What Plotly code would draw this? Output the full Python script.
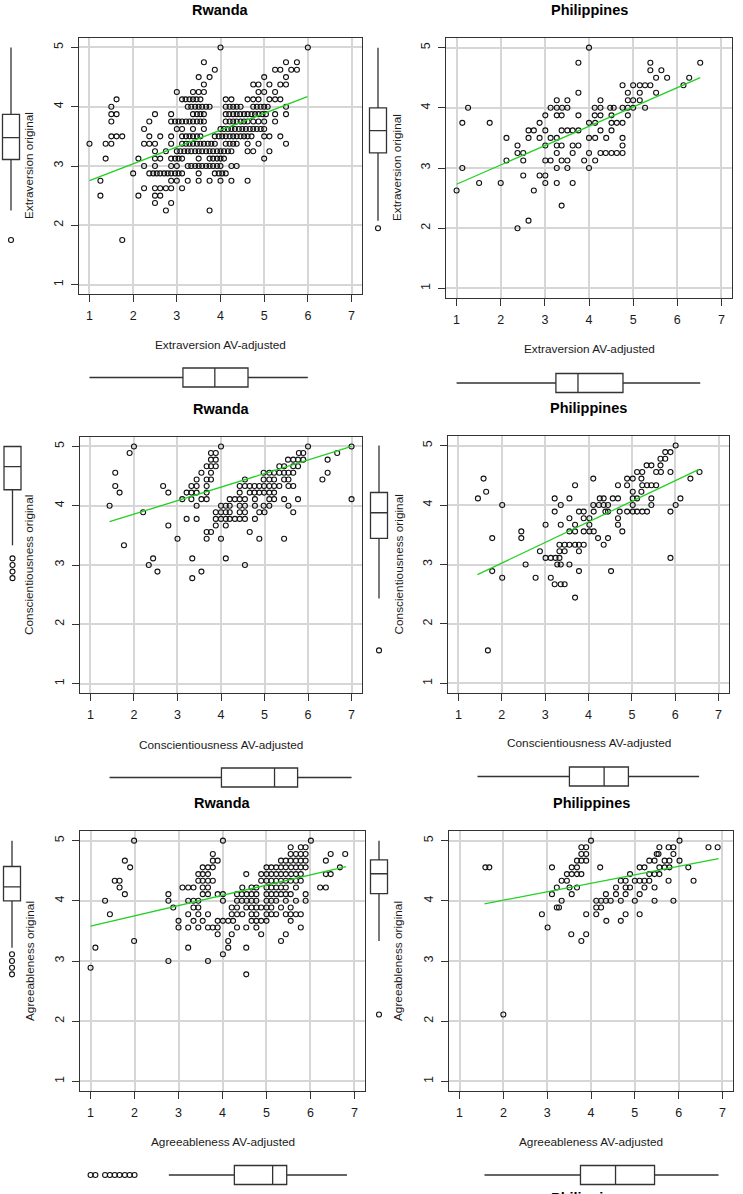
import plotly.graph_objects as go

# figure size in pixels
W, H = 743, 1194

countries = ["Rwanda", "Philippines", "Rwanda", "Philippines", "Rwanda", "Philippines"]
traits = ["Extraversion", "Extraversion", "Conscientiousness", "Conscientiousness",
          "Agreeableness", "Agreeableness"]

x_ticks = [1, 2, 3, 4, 5, 6, 7]
y_ticks = [1, 2, 3, 4, 5]

# ---- scatter data, stored as (original score, [AV-adjusted scores]) rows ----
rw_ext_rows = [
    (5.0, [4.0, 6.0]),
    (4.75, [3.62, 5.5, 5.75]),
    (4.625, [3.87, 5.25, 5.37, 5.62, 5.75]),
    (4.5, [3.5, 3.75, 5.0, 5.5]),
    (4.375, [3.62, 4.75, 4.87, 5.12, 5.37, 5.5]),
    (4.25, [3.0, 3.37, 3.5, 3.62, 4.87, 5.0, 5.25]),
    (4.125, [1.62, 3.12, 3.2, 3.29, 3.37, 3.45, 3.54, 4.12, 4.25, 4.62, 4.75, 4.87,
             5.12, 5.25, 5.37]),
    (4.0, [1.5, 3.25, 3.33, 3.42, 3.5, 3.58, 3.67, 3.75, 4.12, 4.21, 4.29, 4.37, 4.46,
           4.75, 4.83, 4.92, 5.0, 5.08, 5.5]),
    (3.875, [1.5, 1.62, 2.5, 2.87, 3.37, 3.46, 3.54, 3.62, 4.12, 4.2, 4.29, 4.37, 4.45,
             4.54, 4.62, 4.71, 4.79, 4.87, 4.96, 5.04, 5.25, 5.5]),
    (3.75, [1.5, 2.37, 2.87, 2.96, 3.04, 3.12, 3.21, 3.29, 3.37, 3.46, 3.54, 3.62, 4.12,
            4.21, 4.29, 4.37, 4.46, 4.54, 4.62, 4.75, 4.87, 5.0, 5.25]),
    (3.625, [2.25, 3.0, 3.12, 3.37, 3.62, 4.0, 4.08, 4.17, 4.25, 4.33, 4.42, 4.5, 4.58,
             4.67, 4.75, 4.83, 4.92, 5.0]),
    (3.5, [1.5, 1.62, 1.75, 2.37, 2.62, 2.87, 3.12, 3.21, 3.29, 3.37, 3.46, 3.54, 3.87,
           3.96, 4.04, 4.12, 4.21, 4.29, 4.37, 4.46, 4.54, 4.62, 4.71, 5.0, 5.12, 5.37]),
    (3.375, [1.0, 1.37, 1.5, 2.25, 2.37, 2.5, 2.87, 3.12, 3.21, 3.29, 3.37, 3.46, 3.54,
             3.62, 3.71, 3.79, 3.87, 4.12, 4.21, 4.29, 4.37, 4.62, 4.87, 5.5]),
    (3.25, [2.5, 2.75, 3.0, 3.08, 3.17, 3.25, 3.33, 3.42, 3.5, 3.58, 3.67, 3.75, 3.83,
            3.92, 4.0, 4.08, 4.17, 4.25, 4.62, 4.75, 5.12]),
    (3.125, [1.37, 2.12, 2.5, 2.62, 2.87, 2.96, 3.04, 3.12, 3.5, 3.75, 3.83, 3.92, 4.0,
             4.08, 5.0]),
    (3.0, [2.25, 2.5, 2.87, 3.0, 3.25, 3.33, 3.42, 3.5, 3.58, 3.67, 3.75, 3.83, 3.92,
           4.0, 4.25, 4.37]),
    (2.875, [2.0, 2.37, 2.46, 2.54, 2.62, 2.71, 2.79, 2.87, 2.96, 3.04, 3.12, 3.5, 3.87,
             3.96, 4.04, 4.12]),
    (2.75, [1.25, 2.87, 3.0, 3.25, 3.5, 3.75, 4.0, 4.25, 4.62]),
    (2.625, [2.25, 2.5, 2.62, 2.75, 2.87, 3.12]),
    (2.5, [1.25, 2.12, 2.5, 2.62]),
    (2.375, [2.5, 2.87]),
    (2.25, [2.75, 3.75]),
    (1.75, [1.75]),
]

ph_ext_rows = [
    (5.0, [4.0]),
    (4.75, [3.76, 5.39, 6.52]),
    (4.625, [5.39, 5.64]),
    (4.5, [5.52, 5.77, 6.27]),
    (4.375, [4.76, 5.0, 5.15, 5.27, 5.39, 6.14]),
    (4.25, [3.76, 4.88, 5.15, 5.52]),
    (4.125, [3.27, 3.51, 4.26, 4.88, 5.0, 5.15]),
    (4.0, [1.26, 3.13, 3.27, 3.39, 3.51, 4.13, 4.26, 4.48, 4.56, 4.76, 4.88, 5.0, 5.27]),
    (3.875, [3.01, 3.27, 3.38, 3.76, 4.13, 4.26, 4.51, 4.88]),
    (3.75, [1.13, 1.75, 2.88, 4.0, 4.14, 4.51, 4.63, 4.76]),
    (3.625, [2.63, 2.75, 3.01, 3.38, 3.51, 3.63, 3.76, 4.26, 4.51]),
    (3.5, [2.13, 2.63, 2.88, 3.13, 3.27, 4.0, 4.14, 4.39, 4.76]),
    (3.375, [2.38, 3.01, 3.27, 3.38, 3.63, 3.76, 4.76]),
    (3.25, [2.38, 2.51, 3.27, 3.63, 4.0, 4.26, 4.38, 4.51, 4.63, 4.76]),
    (3.125, [2.13, 2.51, 3.01, 3.13, 3.38, 3.51, 3.89, 4.14]),
    (3.0, [1.13, 3.27, 3.51, 4.0]),
    (2.875, [2.51, 2.88, 3.01]),
    (2.75, [1.51, 2.0, 3.01, 3.27, 3.63]),
    (2.625, [1.0, 2.75]),
    (2.375, [3.38]),
    (2.125, [2.63]),
    (2.0, [2.38]),
]

rw_con_rows = [
    (5.0, [2.0, 4.0, 6.0, 7.0]),
    (4.889, [1.9, 3.77, 3.88, 5.79, 5.89, 6.67]),
    (4.778, [3.77, 3.88, 5.54, 5.66, 5.77, 5.89, 6.45]),
    (4.667, [3.67, 3.77, 3.88, 5.34, 5.45, 5.66, 5.77]),
    (4.556, [1.57, 3.55, 3.77, 4.98, 5.11, 5.22, 5.34, 5.45, 5.55, 5.66, 6.45]),
    (4.444, [3.44, 3.67, 3.77, 4.55, 4.98, 5.11, 5.22, 5.45, 5.55, 6.33]),
    (4.333, [1.57, 2.67, 3.32, 3.44, 3.67, 4.43, 4.55, 4.66, 4.77, 4.88, 4.99, 5.11,
             5.22, 5.34, 5.55, 5.66]),
    (4.222, [1.67, 2.79, 3.21, 3.32, 3.44, 3.67, 4.43, 4.66, 4.77, 4.88, 4.99, 5.11,
             5.22]),
    (4.111, [3.11, 3.32, 3.55, 3.67, 4.2, 4.32, 4.43, 4.55, 4.78, 5.11, 5.22, 5.45,
             5.77, 7.0]),
    (4.0, [1.44, 3.44, 4.0, 4.11, 4.2, 4.43, 4.55, 4.78, 4.98, 5.11, 5.55]),
    (3.889, [2.21, 3.88, 4.0, 4.11, 4.2, 4.43, 4.55, 4.88, 5.0, 5.66]),
    (3.778, [3.21, 3.44, 3.88, 4.0, 4.11, 4.2, 4.32, 4.43, 4.55, 4.78]),
    (3.667, [2.79, 3.88, 4.11]),
    (3.556, [3.67, 3.77, 4.66]),
    (3.444, [3.0, 3.67, 4.0, 4.88, 5.45]),
    (3.333, [1.77]),
    (3.111, [2.44, 3.34, 4.11]),
    (3.0, [2.34, 4.55]),
    (2.889, [2.54, 3.55]),
    (2.778, [3.34]),
]

ph_con_rows = [
    (5.0, [6.01]),
    (4.889, [5.77, 5.89]),
    (4.778, [5.66, 5.77]),
    (4.667, [5.34, 5.45, 5.66]),
    (4.556, [5.12, 5.24, 5.56, 5.67, 5.89, 6.56]),
    (4.444, [1.58, 4.11, 4.89, 5.02, 5.22, 6.35]),
    (4.333, [3.69, 4.68, 4.89, 5.24, 5.35, 5.45, 5.56]),
    (4.222, [1.64, 5.02, 5.22]),
    (4.111, [1.45, 3.22, 3.56, 4.26, 4.35, 4.56, 4.68, 5.02, 5.12, 5.45, 6.12]),
    (4.0, [2.01, 3.36, 4.11, 4.24, 4.35, 4.45, 5.02, 5.45, 6.01]),
    (3.889, [3.22, 3.78, 3.89, 4.12, 4.39, 4.45, 4.72, 4.89, 5.02, 5.12, 5.24, 5.35,
             5.89]),
    (3.778, [3.56, 3.89, 4.02, 4.68]),
    (3.667, [3.01, 3.36, 3.69, 4.02, 4.68]),
    (3.556, [2.45, 3.56, 3.69, 3.89, 4.02, 4.12, 4.78]),
    (3.444, [1.78, 2.45, 4.22, 4.45]),
    (3.333, [3.33, 3.45, 3.56, 3.69, 3.78, 3.89, 4.35]),
    (3.222, [2.88, 3.33, 3.45, 3.78]),
    (3.111, [3.01, 3.13, 3.24, 3.33, 5.89]),
    (3.0, [2.55, 3.28, 3.36, 3.56]),
    (2.889, [1.78, 3.78, 4.52]),
    (2.778, [2.01, 2.78, 3.13]),
    (2.667, [3.22, 3.36, 3.45]),
    (2.444, [3.69]),
    (1.556, [1.68]),
]

rw_agr_rows = [
    (5.0, [1.99, 4.01, 6.01]),
    (4.889, [5.55, 5.78, 5.89]),
    (4.778, [3.78, 5.55, 5.67, 5.78, 5.89, 6.46, 6.79]),
    (4.667, [1.78, 3.78, 3.89, 5.33, 5.44, 5.55, 5.67, 5.78, 5.89, 6.35]),
    (4.556, [1.9, 3.55, 3.67, 3.78, 5.0, 5.11, 5.22, 5.33, 5.44, 5.56, 5.67, 5.78, 5.89,
             6.67]),
    (4.444, [3.45, 3.55, 3.67, 4.54, 4.88, 5.0, 5.11, 5.22, 5.33, 5.44, 5.56, 5.67,
             5.78, 6.35, 6.46]),
    (4.333, [1.55, 1.66, 3.45, 3.55, 3.67, 3.78, 4.88, 5.0, 5.11, 5.22, 5.33, 5.44,
             5.55, 5.67, 5.78]),
    (4.222, [1.66, 3.09, 3.22, 3.34, 3.55, 3.67, 4.45, 4.66, 4.77, 5.0, 5.11, 5.22,
             5.33, 5.44, 5.67, 6.22, 6.35]),
    (4.111, [1.78, 2.77, 3.55, 3.67, 3.89, 4.01, 4.33, 4.44, 4.55, 4.66, 4.77, 5.0,
             5.11, 5.22, 5.33, 5.44, 5.55, 5.89]),
    (4.0, [1.33, 2.77, 3.22, 3.34, 3.45, 4.01, 4.33, 4.44, 4.55, 4.66, 4.77, 5.0, 5.11,
           5.22, 5.44, 5.67, 5.89]),
    (3.889, [2.88, 3.34, 3.45, 4.21, 4.33, 4.54, 4.66, 4.77, 4.88, 5.0, 5.11, 5.33,
             5.55]),
    (3.778, [1.44, 3.22, 3.45, 3.67, 4.21, 4.33, 4.45, 4.66, 4.77, 5.0, 5.11, 5.22,
             5.44, 5.55, 5.67, 5.78]),
    (3.667, [3.0, 3.34, 3.55, 3.89, 4.01, 4.13, 4.24, 4.66, 4.77, 4.88, 5.0, 5.55]),
    (3.556, [3.0, 3.22, 3.45, 3.67, 3.78, 3.89, 4.33, 4.54, 4.77, 5.78]),
    (3.444, [3.89, 4.21, 4.88, 5.44]),
    (3.333, [1.99, 4.13, 5.33]),
    (3.222, [1.11, 3.22, 4.13, 4.54]),
    (3.111, [4.01]),
    (3.0, [2.77, 3.67]),
    (2.889, [1.0]),
    (2.778, [4.54]),
]

ph_agr_rows = [
    (5.0, [4.0, 6.02]),
    (4.889, [3.78, 3.89, 5.56, 5.77, 5.88, 6.68, 6.89]),
    (4.778, [3.78, 3.89, 5.5, 5.54, 5.88]),
    (4.667, [3.68, 3.78, 3.89, 5.33, 5.45, 5.68, 5.79, 6.02]),
    (4.556, [1.59, 1.68, 3.11, 3.56, 3.68, 4.21, 5.11, 5.22, 5.56, 5.68, 5.79, 6.22]),
    (4.444, [3.45, 3.56, 3.68, 3.78, 4.89, 5.33, 5.45, 5.56]),
    (4.333, [3.33, 3.45, 4.68, 4.79, 5.0, 5.11, 5.22, 5.33, 5.77, 6.34]),
    (4.222, [3.22, 3.51, 3.68, 4.57, 4.79, 4.89, 5.22, 5.45]),
    (4.111, [3.11, 3.56, 4.34, 4.57, 4.79, 5.11]),
    (4.0, [3.33, 4.12, 4.23, 4.34, 4.45, 4.68, 5.0, 5.45, 5.88]),
    (3.889, [3.22, 3.27, 4.12, 4.23]),
    (3.778, [2.88, 3.89, 4.12, 4.79, 5.11]),
    (3.667, [4.35, 4.68]),
    (3.556, [3.01]),
    (3.444, [3.55, 3.89]),
    (3.333, [3.78]),
    (2.111, [2.0]),
]

# regression line end points (AV-adjusted, original)
fit_x = [[1.0, 5.99], [1.0, 6.52], [1.44, 7.0], [1.44, 6.55], [1.0, 6.81], [1.57, 6.91]]
fit_y = [[2.755, 4.17], [2.73, 4.5], [3.73, 5.0], [2.83, 4.6], [3.58, 4.57], [3.95, 4.7]]

# marginal boxplots: lower whisker, Q1, median, Q3, upper whisker
xbox_stats = [
    [1.0, 3.14, 3.87, 4.63, 6.0],
    [1.0, 3.25, 3.75, 4.77, 6.52],
    [1.44, 4.01, 5.23, 5.76, 7.0],
    [1.44, 3.56, 4.36, 4.92, 6.55],
    [2.78, 4.27, 5.14, 5.46, 6.83],
    [1.57, 3.76, 4.56, 5.45, 6.91],
]
ybox_stats = [
    [2.25, 3.11, 3.48, 3.87, 5.0],
    [2.125, 3.25, 3.62, 4.0, 5.0],
    [3.333, 4.27, 4.66, 5.0, 5.0],
    [2.43, 3.44, 3.87, 4.21, 5.0],
    [3.222, 4.0, 4.23, 4.57, 5.0],
    [3.333, 4.12, 4.45, 4.68, 5.0],
]
xbox_out = [[], [], [], [], [1.0, 1.11, 1.33, 1.44, 1.55, 1.66, 1.78, 1.89, 2.0], []]
ybox_out = [[1.75], [2.0], [3.111, 3.0, 2.889, 2.778], [1.556],
            [3.111, 3.0, 2.889, 2.778], [2.111]]

all_rows = [rw_ext_rows, ph_ext_rows, rw_con_rows, ph_con_rows, rw_agr_rows, ph_agr_rows]

# pixel layout of each panel: plot box (left, right, top, bottom) and the extras
panels = [
    dict(box=(79, 362, 38, 294), ttl=10, xt=345, yt=29, vx=11, hy=377.5),
    dict(box=(446, 732, 38, 298), ttl=10, xt=349, yt=397, vx=378, hy=383),
    dict(box=(80, 362, 437, 693), ttl=409, xt=745, yt=29, vx=12.5, hy=777.5),
    dict(box=(448, 729, 436, 693), ttl=408, xt=743, yt=398, vx=379, hy=776.5),
    dict(box=(80, 365, 831, 1091), ttl=803, xt=1142, yt=30, vx=12, hy=1175),
    dict(box=(449, 733, 831, 1091), ttl=803, xt=1142, yt=398, vx=379, hy=1175),
]

FONT = "Arial, Liberation Sans, sans-serif"
INK = "#1a1a1a"
MARK = dict(symbol="circle-open", size=5, color="#111111", line=dict(width=1.1))
BOXLINE = dict(color="#333333", width=1.3)


def xd(a, b):
    return [a / W, b / W]


def yd(top, bottom):
    return [1 - bottom / H, 1 - top / H]


def aid(k):
    # plotly names the first axis "x"/"y", then "x2", "x3", ...
    return "" if k == 1 else str(k)


def expand(rows):
    xs, ys = [], []
    for yv, xl in rows:
        for xv in xl:
            xs.append(xv)
            ys.append(yv)
    return xs, ys


def label(text, px, py, size, color=INK, angle=0, yanchor="middle"):
    return dict(text=text, x=px / W, y=1 - py / H, xref="paper", yref="paper",
                xanchor="center", yanchor=yanchor, showarrow=False, textangle=angle,
                font=dict(family=FONT, size=size, color=color))


fig = go.Figure()
layout = {}
annotations = []

for i, p in enumerate(panels):
    l, r, t, b = p["box"]
    mx, my, vx, vy, hx, hy = [aid(i * 6 + k) for k in range(1, 7)]

    common = dict(showline=True, mirror=True, linecolor="#333333", linewidth=1.4,
                  ticks="outside", ticklen=7, tickwidth=1.2, tickcolor="#333333",
                  showgrid=True, gridcolor="#d6d6d6", gridwidth=1.6, zeroline=False,
                  tickfont=dict(family=FONT, size=12.5, color=INK), ticklabelstandoff=3)
    layout["xaxis" + mx] = dict(common, domain=xd(l, r), range=[0.76, 7.24],
                                tickvals=x_ticks, anchor="y" + my)
    layout["yaxis" + my] = dict(common, domain=yd(t, b), range=[0.84, 5.16],
                                tickvals=y_ticks, anchor="x" + mx, tickangle=-90)

    # vertical marginal box: its own x axis measured in pixels
    a, c = max(0, p["vx"] - 12), p["vx"] + 12
    layout["xaxis" + vx] = dict(domain=xd(a, c), range=[a - p["vx"], c - p["vx"]],
                                visible=False, anchor="y" + vy)
    layout["yaxis" + vy] = dict(domain=yd(t, b), range=[0.84, 5.16], visible=False,
                                anchor="x" + vx)

    # horizontal marginal box: same x range as the scatter, y axis in pixels
    layout["xaxis" + hx] = dict(domain=xd(l, r), range=[0.76, 7.24], visible=False,
                                anchor="y" + hy)
    a, c = p["hy"] - 12, min(H, p["hy"] + 12)
    layout["yaxis" + hy] = dict(domain=yd(a, c), range=[p["hy"] - c, p["hy"] - a],
                                visible=False, anchor="x" + hx)

    xs, ys = expand(all_rows[i])
    fig.add_trace(go.Scatter(x=xs, y=ys, mode="markers", xaxis="x" + mx, yaxis="y" + my,
                             marker=MARK, showlegend=False, hoverinfo="skip"))
    fig.add_trace(go.Scatter(x=fit_x[i], y=fit_y[i], mode="lines",
                             xaxis="x" + mx, yaxis="y" + my,
                             line=dict(color="#22d022", width=1.3),
                             showlegend=False, hoverinfo="skip"))

    lo, q1, md, q3, hi = ybox_stats[i]
    fig.add_trace(go.Box(x=[0], lowerfence=[lo], q1=[q1], median=[md], q3=[q3],
                         upperfence=[hi], width=17, whiskerwidth=0, boxpoints=False,
                         fillcolor="white", line=BOXLINE, xaxis="x" + vx, yaxis="y" + vy,
                         showlegend=False, hoverinfo="skip"))
    if ybox_out[i]:
        fig.add_trace(go.Scatter(x=[0] * len(ybox_out[i]), y=ybox_out[i], mode="markers",
                                 xaxis="x" + vx, yaxis="y" + vy, marker=MARK,
                                 showlegend=False, hoverinfo="skip"))

    lo, q1, md, q3, hi = xbox_stats[i]
    fig.add_trace(go.Box(y=[0], lowerfence=[lo], q1=[q1], median=[md], q3=[q3],
                         upperfence=[hi], orientation="h", width=19, whiskerwidth=0,
                         boxpoints=False, fillcolor="white", line=BOXLINE,
                         xaxis="x" + hx, yaxis="y" + hy, showlegend=False,
                         hoverinfo="skip"))
    if xbox_out[i]:
        fig.add_trace(go.Scatter(x=xbox_out[i], y=[0] * len(xbox_out[i]), mode="markers",
                                 xaxis="x" + hx, yaxis="y" + hy, marker=MARK,
                                 showlegend=False, hoverinfo="skip"))

    cx = (l + r) / 2
    cy = (t + b) / 2
    annotations.append(label("<b>" + countries[i] + "</b>", cx, p["ttl"], 14.5, "#000000"))
    annotations.append(label(traits[i] + " AV-adjusted", cx, p["xt"], 11.8))
    annotations.append(label(traits[i] + " original", p["yt"], cy, 11.8, angle=-90))

# title of the next row, cut by the bottom edge as in the source figure
annotations.append(label("<b>Philippines</b>", 589, 1188, 14.5, "#000000", yanchor="top"))

fig.update_layout(**layout)
fig.update_layout(width=W, height=H, margin=dict(l=0, r=0, t=0, b=0),
                  paper_bgcolor="white", plot_bgcolor="white",
                  annotations=annotations)

fig.write_html("out.html", config={"displayModeBar": False},
               post_script="document.body.style.margin='0';")
